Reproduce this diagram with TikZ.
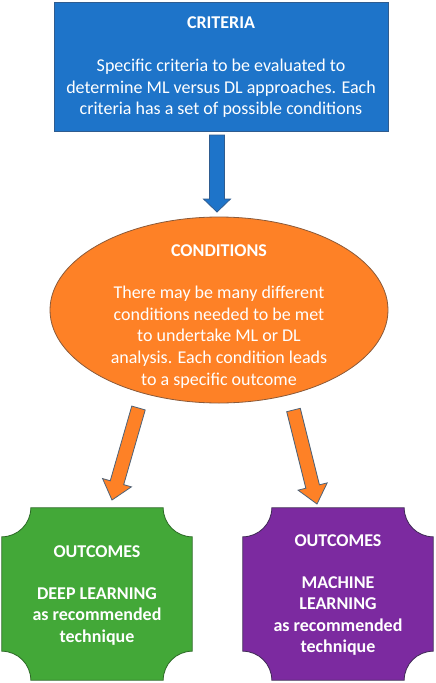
\documentclass[tikz,border=0pt]{standalone}
\usepackage{fontspec}
\setmainfont{Carlito}
\usetikzlibrary{calc,shapes.geometric,backgrounds}
\definecolor{cblue}{HTML}{1E74C9}
\definecolor{cblueb}{HTML}{2F5C8F}
\definecolor{corange}{HTML}{FE8126}
\definecolor{coranb}{HTML}{8A5A3A}
\definecolor{carrb}{HTML}{4F6277}
\definecolor{cgreen}{HTML}{43A838}
\definecolor{cgreenb}{HTML}{2D6A27}
\definecolor{cpurple}{HTML}{7C2AA0}
\definecolor{cpurpleb}{HTML}{3F2A55}
\newcommand{\blockarrow}[6]{% start, tip, shaft half, head half, head length, style
  \path let \p0=($(#2)!#5!(#1)$) in coordinate (tmpH) at (\p0);
  \draw[#6] ($(#1)!#3!90:(#2)$) -- ($(tmpH)!#3!-90:(#1)$) -- ($(tmpH)!#4!-90:(#1)$)
    -- (#2) -- ($(tmpH)!#4!90:(#1)$) -- ($(tmpH)!#3!90:(#1)$) -- ($(#1)!#3!-90:(#2)$) -- cycle;
}
\newcommand{\plaque}[3]{% node, radius, style (y axis points down)
  \draw[#3] ($(#1.north west)+(#2,0)$) -- ($(#1.north east)+(-#2,0)$)
    arc[start angle=180,end angle=270,radius=#2pt] -- ($(#1.south east)+(0,-#2)$)
    arc[start angle=90,end angle=180,radius=#2pt] -- ($(#1.south west)+(#2,0)$)
    arc[start angle=0,end angle=90,radius=#2pt] -- ($(#1.north west)+(0,#2)$)
    arc[start angle=-90,end angle=0,radius=#2pt] -- cycle;
}
\tikzset{
  txt/.style={text=white,align=center,font=\fontsize{18}{21.6}\selectfont,inner sep=0pt},
  btxt/.style={txt,font=\fontsize{18}{21.6}\selectfont\bfseries},
  outbox/.style={rectangle,minimum width=190pt,minimum height=172pt,inner sep=0pt},
}
\begin{document}
\begin{tikzpicture}[x=1pt,y=-1pt]
\useasboundingbox (0,0) rectangle (436,683);
% criteria box
\node[rectangle,fill=cblue,draw=cblueb,line width=0.8pt,minimum width=334pt,minimum height=129pt,inner sep=0pt] (crit) at (221,66.5) {};
\node[btxt] (critt) at (221,23) {CRITERIA};
\node[txt] (critb) at (221,88.5) {Specific criteria to be evaluated to\\determine ML versus DL approaches. Each\\criteria has a set of possible conditions};
% conditions ellipse
\node[ellipse,fill=corange,draw=coranb,line width=0.8pt,minimum width=338pt,minimum height=186pt,inner sep=0pt] (cond) at (219,310) {};
\node[btxt] (condt) at (219,251) {CONDITIONS};
\node[txt] (condb) at (219,337) {There may be many different\\conditions needed to be met\\to undertake ML or DL\\analysis. Each condition leads\\to a specific outcome};
% outcome boxes
\node[outbox] (dl) at (97,594) {};
\node[outbox] (ml) at (338,594) {};
\begin{scope}[on background layer]
\fill[white] (0,0) rectangle (436,683);
\plaque{dl}{29}{fill=cgreen,draw=cgreenb,line width=0.8pt}
\plaque{ml}{29}{fill=cpurple,draw=cpurpleb,line width=0.8pt}
\end{scope}
\node[btxt] (dlt) at (97,552) {OUTCOMES};
\node[btxt] (dlb) at (97,616.5) {DEEP LEARNING\\as recommended\\technique};
\node[btxt] (mlt) at (338,541) {OUTCOMES};
\node[btxt] (mlb) at (338,616) {MACHINE\\LEARNING\\as recommended\\technique};
% arrows
\coordinate (a0s) at (217,135);
\coordinate (a0e) at (217,212);
\coordinate (a1s) at (138.5,408);
\coordinate (a1e) at (112,500);
\coordinate (a2s) at (293.5,410);
\coordinate (a2e) at (317,504);
\blockarrow{a0s}{a0e}{7.5pt}{13.5pt}{13pt}{fill=cblue,draw=cblueb,line width=0.8pt}
\blockarrow{a1s}{a1e}{7pt}{15pt}{18pt}{fill=corange,draw=carrb,line width=0.8pt}
\blockarrow{a2s}{a2e}{7pt}{15pt}{18pt}{fill=corange,draw=carrb,line width=0.8pt}
\end{tikzpicture}
\end{document}
